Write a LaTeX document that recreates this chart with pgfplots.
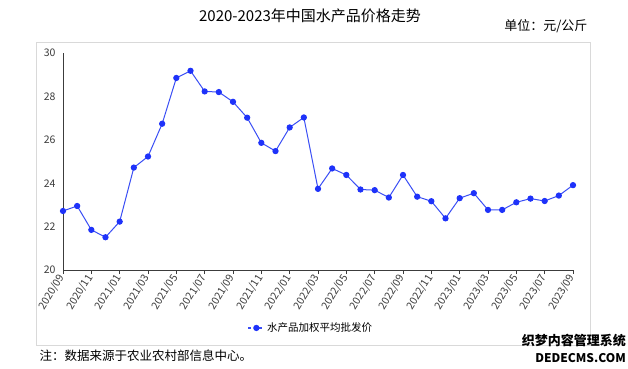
\documentclass[border=0pt]{standalone}
\usepackage{pgfplots}
\pgfplotsset{compat=1.18}
\usepackage{fontspec}
\setmainfont{Noto Sans CJK SC}
\definecolor{lineblue}{RGB}{58,78,245}
\definecolor{markblue}{RGB}{30,50,250}
\definecolor{axgray}{RGB}{60,60,60}
\begin{document}
\begin{tikzpicture}
\path[use as bounding box] (0pt,0pt) rectangle (628pt,368pt);
\fill[white] (0pt,0pt) rectangle (628pt,368pt);
\draw[gray!30,line width=0.8pt] (36pt,23pt) rectangle (590pt,326pt);
\node[font=\fontsize{15}{16}\selectfont] at (310pt,352pt) {2020-2023年中国水产品价格走势};
\node[font=\fontsize{13}{14}\selectfont, anchor=east] at (591pt,342pt) {单位：元/公斤};
\node[font=\fontsize{12.5}{14}\selectfont, anchor=west] at (36pt,12pt) {注：数据来源于农业农村部信息中心。};
\node[font=\bfseries\fontsize{13}{14}\selectfont, anchor=east, inner sep=0pt] at (626pt,27pt) {织梦内容管理系统};
\node[font=\bfseries\fontsize{12}{13}\selectfont, anchor=east, inner sep=0pt] at (626pt,10pt) {DEDECMS.COM};
\begin{axis}[
  at={(63pt,98pt)}, anchor=south west,
  scale only axis, width=510pt, height=217pt,
  xmin=0, xmax=36, ymin=20, ymax=30,
  axis x line*=bottom, axis y line*=left,
  axis line style={axgray, line width=0.8pt},
  ytick={20,22,...,30},
  xtick={0,2,...,36},
  xticklabels={2020/09,2020/11,2021/01,2021/03,2021/05,2021/07,2021/09,2021/11,2022/01,2022/03,2022/05,2022/07,2022/09,2022/11,2023/01,2023/03,2023/05,2023/07,2023/09},
  x tick label style={rotate=58, anchor=east, font=\fontsize{10.5}{11}\selectfont, text=axgray, inner sep=1.5pt},
  y tick label style={font=\fontsize{10.5}{11}\selectfont, text=axgray},
  /pgf/number format/assume math mode=true,
  xtick style={axgray, line width=0.6pt},
  ytick style={draw=none},
  tick align=outside,
  major tick length=4pt,
  legend style={at={(0.486,-0.267)}, anchor=center, draw=none, fill=none, font=\fontsize{10.5}{12}\selectfont},
  legend image code/.code={\draw[#1, line width=1.4pt, dash pattern=on 3pt off 2.5pt] (0pt,0pt) -- (16pt,0pt); \draw[#1, solid] plot coordinates {(8pt,0pt)};},
]
\addplot[lineblue, line width=1pt, mark=*, mark size=2.6pt, mark options={solid, draw=markblue, fill=markblue}] coordinates {
(0,22.72)(1,22.95)(2,21.85)(3,21.51)(4,22.23)(5,24.72)(6,25.23)(7,26.74)(8,28.85)(9,29.18)
(10,28.23)(11,28.20)(12,27.75)(13,27.02)(14,25.86)(15,25.48)(16,26.57)(17,27.03)(18,23.74)
(19,24.68)(20,24.38)(21,23.71)(22,23.68)(23,23.34)(24,24.38)(25,23.38)(26,23.17)(27,22.38)
(28,23.31)(29,23.54)(30,22.77)(31,22.77)(32,23.12)(33,23.29)(34,23.18)(35,23.43)(36,23.91)
};
\addlegendentry{水产品加权平均批发价}
\end{axis}
\end{tikzpicture}
\end{document}
